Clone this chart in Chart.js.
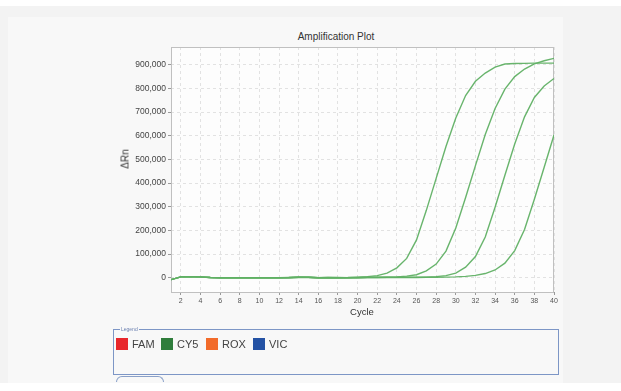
<!DOCTYPE html>
<html>
<head>
<meta charset="utf-8">
<script src="https://cdn.jsdelivr.net/npm/chart.js@4/dist/chart.umd.min.js"></script>
<style>
  html, body { margin: 0; padding: 0; }
  body { width: 621px; height: 391px; background: #fff; position: relative; overflow: hidden; font-family: "Liberation Sans", Arial, sans-serif; }
  #outer { position: absolute; left: 0; top: 6px; width: 621px; height: 377px; background: #f3f3f3; }
  #panel { position: absolute; left: 8px; top: 17px; width: 555px; height: 366px; background: #f8f8f8; }
  #wrap { position: absolute; left: 110px; top: 25px; width: 450px; height: 297px; }
  .txt { position: absolute; color: #333; white-space: nowrap; }
  #title { left: 236px; width: 200px; top: 31px; text-align: center; font-size: 10px; }
  #ytitle { left: 125px; top: 159px; font-size: 10px; transform: translate(-50%, -50%) rotate(-90deg); }
  #xtitle { left: 312px; width: 100px; top: 306px; text-align: center; font-size: 9.5px; }
  #legend { position: absolute; left: 113px; top: 329px; width: 444px; height: 44px; border: 1px solid #7d96c6; }
  #legend .cap { position: absolute; left: 6px; top: -4px; font-size: 5px; color: #6a7fb0; background: #f8f8f8; padding: 0 1px; }
  .item { position: absolute; top: 8px; height: 12px; font-size: 11px; color: #444; line-height: 12px; }
  .item span { display: inline-block; width: 12px; height: 12px; vertical-align: top; margin-right: 4px; }
  #tab { position: absolute; left: 116px; top: 376px; width: 46px; height: 5px; border: 1px solid #8aa0c8; border-bottom: none; border-radius: 6px 6px 0 0; background: #f8f8f8; }
</style>
</head>
<body>
<div id="outer"></div>
<div id="panel"></div>
<div class="txt" id="title">Amplification Plot</div>
<div id="wrap"><canvas id="ampChart" width="450" height="297"></canvas></div>
<div class="txt" id="ytitle">ΔRn</div>
<div class="txt" id="xtitle">Cycle</div>
<div id="legend"><div class="cap">Legend</div></div>
<div id="tab"></div>
<script>
// cycles 1..40
const cycles = [1, 2, 3, 4, 5, 6, 7, 8, 9, 10, 11, 12, 13, 14, 15, 16, 17, 18, 19, 20,
    21, 22, 23, 24, 25, 26, 27, 28, 29, 30, 31, 32, 33, 34, 35, 36, 37, 38, 39, 40];

const sample1 = [-8000, 4000, 5000, 4000, 1000, 0, 0, 0, 0, 0, 0, 0, 1000, 3000, 2000, 0, 1000, 0, 1000, 3000,
    5000, 9000, 20000, 42000, 82000, 160000, 285000, 420000, 555000, 675000,
    770000, 830000, 865000, 890000, 903000, 905000, 906000, 907000, 907000, 907000];
const sample2 = [-8000, 4000, 5000, 3000, 1000, 0, 0, 0, 0, 0, 0, 0, 0, 2000, 2000, 0, 1000, 0, 0, 1000,
    2000, 3000, 3000, 4000, 7000, 13000, 29000, 58000, 113000, 210000,
    339000, 474000, 605000, 715000, 797000, 850000, 882000, 904000, 917000, 927000];
const sample3 = [-8000, 4000, 5000, 4000, 1000, 0, 0, 0, 0, 0, 0, 0, 1000, 2000, 1000, 0, 0, 0, 0, 0,
    1000, 1000, 2000, 2000, 2000, 3000, 3000, 5000, 9000, 20000,
    45000, 90000, 172000, 298000, 433000, 565000, 680000, 762000, 810000, 842000];
const sample4 = [-8000, 4000, 5000, 4000, 1000, 0, 0, 0, 0, 0, 0, 0, 0, 2000, 2000, 0, 0, 1000, 0, 0,
    1000, 1000, 1000, 1000, 1000, 1000, 2000, 2000, 3000, 4000,
    6000, 10000, 18000, 33000, 62000, 115000, 204000, 332000, 467000, 603000];

const xTicks = [2, 4, 6, 8, 10, 12, 14, 16, 18, 20, 22, 24, 26, 28, 30, 32, 34, 36, 38, 40];
const yTicks = [0, 100000, 200000, 300000, 400000, 500000, 600000, 700000, 800000, 900000];

const legendNames = ['FAM', 'CY5', 'ROX', 'VIC'];
const legendColors = ['#e8262b', '#2f7d3c', '#f26b2a', '#2452a4'];
const legendLeft = [2, 47, 92, 139];

// html legend like the instrument software
const legendEl = document.getElementById('legend');
legendNames.forEach((name, i) => {
    const d = document.createElement('div');
    d.className = 'item';
    d.style.left = legendLeft[i] + 'px';
    d.innerHTML = '<span style="background:' + legendColors[i] + '"></span>' + name;
    legendEl.appendChild(d);
});

const lineColor = 'rgba(96, 176, 100, 0.95)';
const font = "'Liberation Sans', Arial, sans-serif";

const plotFrame = {
    id: 'plotFrame',
    beforeDraw(chart) {
        const a = chart.chartArea;
        const ctx = chart.ctx;
        ctx.save();
        ctx.fillStyle = '#fdfdfd';
        ctx.fillRect(a.left, a.top, a.right - a.left, a.bottom - a.top);
        ctx.restore();
    },
    beforeDatasetsDraw(chart) {
        const a = chart.chartArea;
        const ctx = chart.ctx;
        ctx.save();
        ctx.strokeStyle = '#c0c0c0';
        ctx.lineWidth = 1;
        ctx.strokeRect(a.left + 0.5, a.top + 0.5, a.right - a.left - 1, a.bottom - a.top);
        ctx.restore();
    }
};

function makeSet(label, values) {
    return {
        label: label,
        data: values.map((v, i) => ({ x: cycles[i], y: v })),
        borderColor: lineColor,
        borderWidth: 1.4,
        pointRadius: 0,
        tension: 0,
        fill: false
    };
}

new Chart('ampChart', {
    type: 'line',
    data: {
        datasets: [
            makeSet('Sample 1', sample1),
            makeSet('Sample 2', sample2),
            makeSet('Sample 3', sample3),
            makeSet('Sample 4', sample4)
        ]
    },
    plugins: [plotFrame],
    options: {
        responsive: false,
        animation: false,
        layout: { padding: { top: 22, right: 6, left: 0, bottom: 0 } },
        plugins: { legend: { display: false }, title: { display: false }, tooltip: { enabled: false } },
        scales: {
            x: {
                type: 'linear',
                min: 1,
                max: 40,
                afterBuildTicks: (s) => { s.ticks = xTicks.map(v => ({ value: v })); },
                afterFit: (s) => { s.height = 30; },
                grid: { color: '#e2e2e2', tickColor: '#999', tickLength: 3 },
                border: { display: false, dash: [3, 3] },
                ticks: { font: { family: font, size: 7 }, color: '#555', padding: 2, maxRotation: 0, autoSkip: false }
            },
            y: {
                min: -60000,
                max: 975000,
                afterBuildTicks: (s) => { s.ticks = yTicks.map(v => ({ value: v })); },
                afterFit: (s) => { s.width = 61; },
                grid: { color: '#e2e2e2', tickColor: '#999', tickLength: 3 },
                border: { display: false, dash: [3, 3] },
                ticks: {
                    font: { family: font, size: 8.5 },
                    color: '#444',
                    padding: 2,
                    callback: (v) => v.toLocaleString('en-US')
                }
            }
        }
    }
});
</script>
</body>
</html>
